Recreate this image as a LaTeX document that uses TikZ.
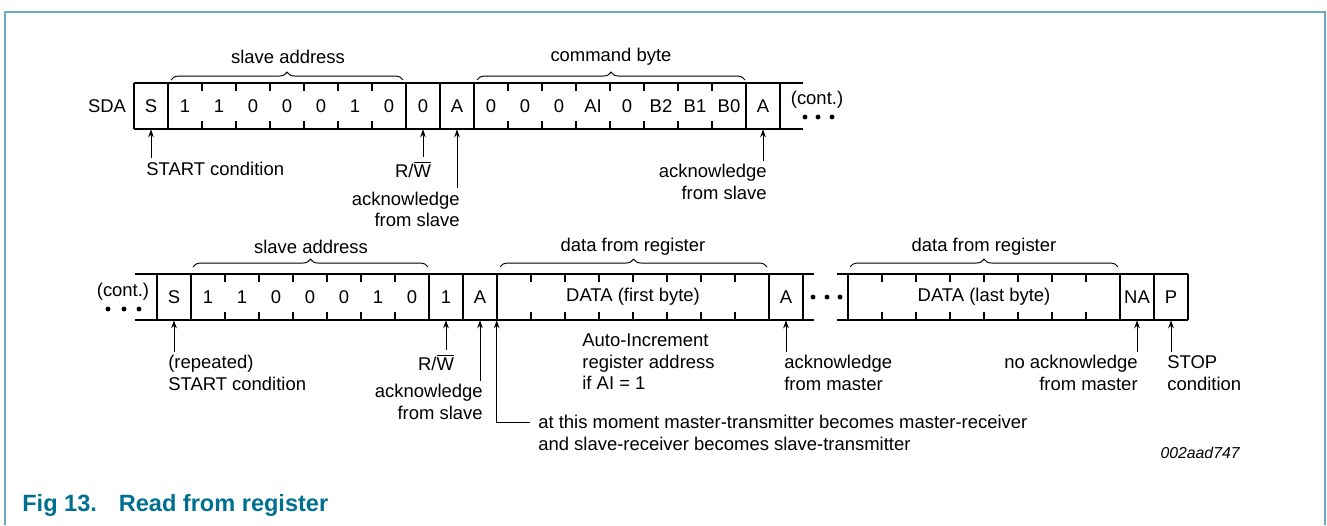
\documentclass[tikz,border=0pt]{standalone}
\usepackage{fontspec}
\setmainfont{Liberation Sans}
\usetikzlibrary{arrows.meta}
\usetikzlibrary{decorations.pathreplacing}
\usetikzlibrary{positioning}

\definecolor{figteal}{RGB}{0,112,145}
\definecolor{boxteal}{RGB}{110,170,190}

\tikzset{
	bit/.style={minimum width=0.68cm, minimum height=0.92cm, inner sep=0pt},
	byte/.style={minimum width=5.44cm, minimum height=0.92cm, inner sep=0pt},
	lbl/.style={inner sep=0pt, align=left},
	lblr/.style={inner sep=0pt, align=right},
	wire/.style={line width=1.15pt},
	ptr/.style={-{Stealth[length=4.5pt,width=3.2pt]}, line width=0.55pt, shorten <=2pt},
	brc/.style={decorate, decoration={brace, amplitude=4.5pt}, line width=0.55pt},
	dot/.style={radius=1.4pt}
}

\begin{document}
\begin{tikzpicture}[x=0.02cm, y=-0.02cm, every node/.style={font=\fontsize{10.5}{12.2}\selectfont}]
	\useasboundingbox (0,0) rectangle (1327,525);
	\draw[boxteal, line width=0.9pt] (5,525) -- (5,12) -- (1325,12) -- (1325,525);

	% first frame: write command byte
	\node (sda) at (107,106) {SDA};
	\node[bit] (s1) at (151,106) {S};
	\foreach \v [count=\i] in {1,1,0,0,0,1,0}
		\node[bit] (adr\i) at (151+34*\i,106) {\v};
	\node[bit] (rw1) at (423,106) {0};
	\node[bit] (ack1) at (457,106) {A};
	\foreach \v [count=\i] in {0,0,0,AI,0,B2,B1,B0}
		\node[bit] (cmd\i) at (457+34*\i,106) {\v};
	\node[bit] (ack2) at (763,106) {A};
	\node (cont1) at (817,100) {(cont.)};
	\fill (805,117) circle[dot] (818,117) circle[dot] (832,117) circle[dot];

	\draw[wire] (134,83) -- (803,83) (134,129) -- (803,129);
	\foreach \x in {134,168,406,440,474,746,780}
		\draw[wire] (\x,83) -- (\x,129);
	\foreach \x in {202,236,...,372,508,542,...,712}
		\draw[wire] (\x,83) -- ++(0,8) (\x,129) -- ++(0,-8);

	\draw[brc] (171,80) -- (403,80);
	\node (addr1) at (288,57) {slave address};
	\draw[brc] (477,80) -- (745,80);
	\node (cmdb) at (611,57) {command byte};

	\node[lbl, anchor=west] (startlbl1) at (146,169) {START condition};
	\node[lbl] (rwlbl1) at (413,169) {R/$\overline{\hbox{W}}$};
	\node[lblr, anchor=east] (acklbl1) at (460,209.5) {acknowledge\\from slave};
	\node[lblr, anchor=east] (acklbl2) at (767,182) {acknowledge\\from slave};

	\draw[ptr] (startlbl1.north -| s1.south) -- (s1.south);
	\draw[ptr] (rwlbl1.north -| rw1.south) -- (rw1.south);
	\draw[ptr] (acklbl1.north -| ack1.south) -- (ack1.south);
	\draw[ptr] (acklbl2.north -| ack2.south) -- (ack2.south);

	% second frame: read data bytes
	\node (cont2) at (123,292) {(cont.)};
	\fill (108,309) circle[dot] (124,309) circle[dot] (139,309) circle[dot];
	\node[bit] (s2) at (174,297) {S};
	\foreach \v [count=\i] in {1,1,0,0,0,1,0}
		\node[bit] (radr\i) at (174+34*\i,297) {\v};
	\node[bit] (rw2) at (446,297) {1};
	\node[bit] (ack3) at (480,297) {A};
	\node[byte] (data1) at (633,297) {DATA (first byte)};
	\node[bit] (ack4) at (786,297) {A};
	\fill (813,297) circle[dot] (827,297) circle[dot] (840,297) circle[dot];
	\node[byte] (data2) at (984,297) {DATA (last byte)};
	\node[bit] (nack) at (1137,297) {NA};
	\node[bit] (stop) at (1171,297) {P};

	\draw[wire] (135,274) -- (814,274) (135,320) -- (814,320);
	\draw[wire] (837,274) -- (1188,274) (837,320) -- (1188,320);
	\foreach \x in {157,191,429,463,497,769,803,848,1120,1154,1188}
		\draw[wire] (\x,274) -- (\x,320);
	\foreach \x in {225,259,...,395,531,565,...,735,882,916,...,1086}
		\draw[wire] (\x,274) -- ++(0,8) (\x,320) -- ++(0,-8);

	\draw[brc] (193,267) -- (428,267);
	\node (addr2) at (311,247) {slave address};
	\draw[brc] (500,267) -- (767,267);
	\node (reg1) at (633,247) {data from register};
	\draw[brc] (850,267) -- (1118,267);
	\node (reg2) at (984,247) {data from register};

	\node[lbl, anchor=west] (startlbl2) at (168,373) {(repeated)\\START condition};
	\node[lbl] (rwlbl2) at (436,362) {R/$\overline{\hbox{W}}$};
	\node[lblr, anchor=east] (acklbl3) at (483,402) {acknowledge\\from slave};
	\node[lbl, anchor=west] (autolbl) at (582,362) {Auto-Increment\\register address\\if AI = 1};
	\node[lbl, anchor=west] (acklbl4) at (784,373) {acknowledge\\from master};
	\node[lblr, anchor=east] (nacklbl) at (1138,373) {no acknowledge\\from master};
	\node[lbl, anchor=west] (stoplbl) at (1167,373) {STOP\\condition};
	\node[lbl, anchor=west] (moment) at (538,433) {at this moment master-transmitter becomes master-receiver\\and slave-receiver becomes slave-transmitter};
	\coordinate (bend) at (530,422);

	\draw[ptr] (startlbl2.north -| s2.south) -- (s2.south);
	\draw[ptr] (rwlbl2.north -| rw2.south) -- (rw2.south);
	\draw[ptr] (acklbl3.north -| ack3.south) -- (ack3.south);
	\draw[ptr] (acklbl4.north -| ack4.south) -- (ack4.south);
	\draw[ptr] (nacklbl.north -| nack.south) -- (nack.south);
	\draw[ptr] (stoplbl.north -| stop.south) -- (stop.south);
	\draw[ptr, shorten <=0pt] (bend) -| (data1.south west);

	\node[anchor=east, inner sep=0pt, font=\fontsize{9}{11}\selectfont\itshape] (code) at (1240,453) {002aad747};
	\node[anchor=west, inner sep=0pt, text=figteal, font=\fontsize{13.4}{15}\selectfont\bfseries] (caption) at (22,505) {Fig 13.\hspace{12.5pt}Read from register};
\end{tikzpicture}
\end{document}
